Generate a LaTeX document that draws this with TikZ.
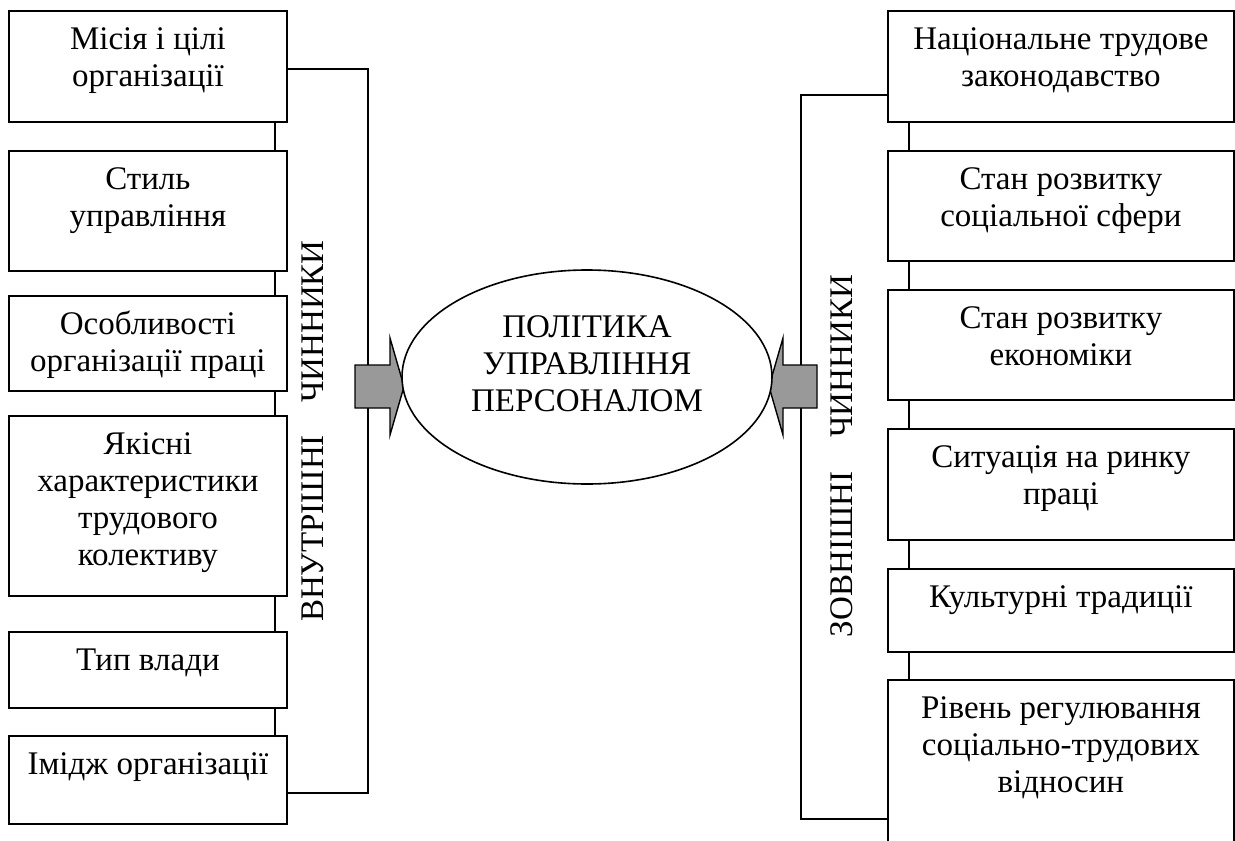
\documentclass[tikz,border=0pt]{standalone}
\usepackage{fontspec}
\setmainfont{Liberation Serif}
\usetikzlibrary{positioning}
\usetikzlibrary{shapes.geometric}

\newcommand{\bigfont}{\fontsize{33}{37}\selectfont}
\newcommand{\boxtext}[3]{\parbox[t][#1][t]{#2}{\centering\rule{0pt}{39pt}#3}}

\begin{document}
\begin{tikzpicture}[x=1pt, y=-1pt,
factor/.style={draw, line width=1.8pt, inner sep=0pt, anchor=north west, font=\bigfont},
link/.style={line width=1.6pt},
policy/.style={draw, ellipse, fill=white, line width=1.6pt, minimum width=370pt, minimum height=214pt},
policytext/.style={align=center, inner sep=0pt, font=\bigfont},
sidelabel/.style={rotate=90, anchor=base, inner sep=0pt, font=\bigfont},
blockarrow/.style={draw, fill=black!40, line width=1.4pt, line join=miter}]

\clip (0,0) rectangle (1235,841);

% internal factors
\node[factor] (in1) at (8,10) {\boxtext{111pt}{278pt}{Місія і цілі\\організації}};
\node[factor] (in2) at (8,150) {\boxtext{120pt}{278pt}{Стиль\\управління}};
\node[factor] (in3) at (8,295) {\boxtext{95pt}{278pt}{Особливості\\організації праці}};
\node[factor] (in4) at (8,415) {\boxtext{180pt}{278pt}{Якісні\\характеристики\\трудового\\колективу}};
\node[factor] (in5) at (8,631) {\boxtext{76pt}{278pt}{Тип влади}};
\node[factor] (in6) at (8,735) {\boxtext{88pt}{278pt}{Імідж організації}};

% external factors
\node[factor] (ex1) at (887,10) {\boxtext{111pt}{346pt}{Національне трудове\\законодавство}};
\node[factor] (ex2) at (887,150) {\boxtext{110pt}{346pt}{Стан розвитку\\соціальної сфери}};
\node[factor] (ex3) at (887,289) {\boxtext{110pt}{346pt}{Стан розвитку\\економіки}};
\node[factor] (ex4) at (887,428) {\boxtext{111pt}{346pt}{Ситуація на ринку\\праці}};
\node[factor] (ex5) at (887,568) {\boxtext{83pt}{346pt}{Культурні традиції}};
\node[factor] (ex6) at (887,679) {\boxtext{191pt}{346pt}{Рівень регулювання\\соціально-трудових\\відносин}};

\foreach \a/\b in {in1/in2,in2/in3,in3/in4,in4/in5,in5/in6}
  \draw[link] ([xshift=-13pt]\a.south east) -- ([xshift=-13pt]\b.north east);
\foreach \a/\b in {ex1/ex2,ex2/ex3,ex3/ex4,ex4/ex5,ex5/ex6}
  \draw[link] ([xshift=22pt]\a.south west) -- ([xshift=22pt]\b.north west);

\draw[link] ([yshift=-2.5pt]in1.east) -- ++(80,0) |- ([yshift=-13pt]in6.east);
\draw[link] ([yshift=-28.5pt]ex1.west) -- ++(-86,0) |- ([yshift=-43.5pt]ex6.west);

\draw[blockarrow] (355,365) -- (390,365) -- (390,338) -- (404,386.5) -- (390,435) -- (390,408) -- (355,408) -- cycle;
\draw[blockarrow] (817,365) -- (783,365) -- (783,338) -- (769,386.5) -- (783,435) -- (783,408) -- (817,408) -- cycle;

\node[policy] (pol) at (587,377) {};
\node[policytext] (poltext) at (587,364) {ПОЛІТИКА\\УПРАВЛІННЯ\\ПЕРСОНАЛОМ};

\node[sidelabel] (inlab) at (323,431) {ВНУТРІШНІ\hspace{24pt} ЧИННИКИ};
\node[sidelabel] (exlab) at (852,456) {ЗОВНІШНІ\hspace{26pt} ЧИННИКИ};

\end{tikzpicture}
\end{document}
